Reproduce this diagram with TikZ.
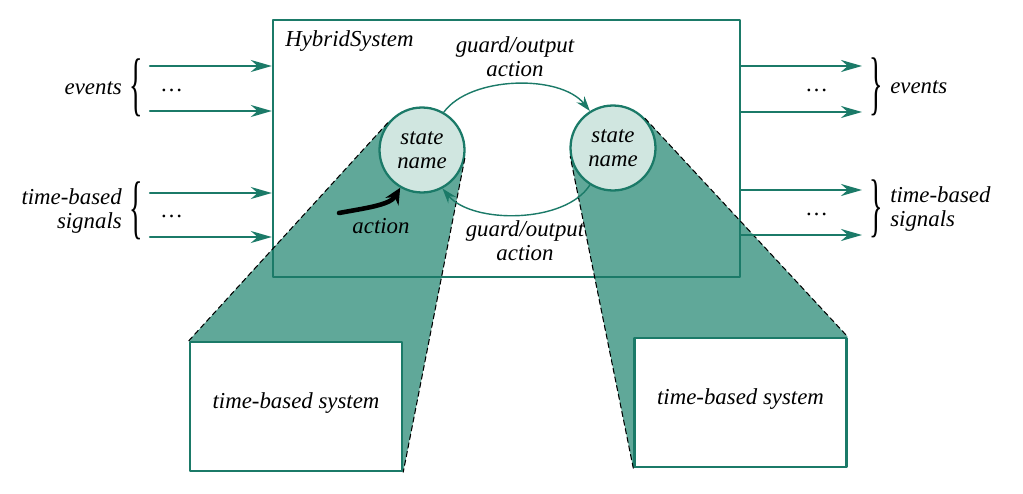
\documentclass[tikz,border=0pt]{standalone}
\usepackage{fontspec}
\setmainfont{Liberation Serif}
\usetikzlibrary{arrows.meta,positioning,calc,backgrounds}
\definecolor{tealline}{RGB}{27,122,104}
\definecolor{tealfill}{RGB}{96,168,153}
\definecolor{statefill}{RGB}{208,230,224}
\newcommand{\bigbrace}[1]{{\fontsize{40}{40}\selectfont\upshape#1}}

\begin{document}
\begin{tikzpicture}[x=0.02cm,y=-0.02cm,line cap=round,line join=round,
    font=\fontsize{13}{13.5}\selectfont\itshape,
    sysbox/.style={draw=tealline,line width=1.4pt,minimum width=9.34cm,minimum height=5.14cm,inner sep=0},
    subbox/.style={draw=tealline,line width=1.4pt,fill=white,minimum width=4.24cm,minimum height=2.58cm},
    state/.style={circle,draw=tealline,line width=1.3pt,fill=statefill,minimum size=1.7cm,inner sep=0,align=center},
    sig/.style={tealline,line width=1.3pt,-{Stealth[length=0.42cm,width=0.24cm]}},
    trans/.style={tealline,line width=0.8pt,-{Stealth[length=0.3cm,width=0.2cm]}},
    zoomedge/.style={line width=0.6pt,dash pattern=on 3pt off 2pt},
    lbl/.style={inner sep=0},
    bracenode/.style={inner sep=0,xscale=0.4}]
  \useasboundingbox (0,0) rectangle (1023,493);

  \node[sysbox] (hs) at (506.5,148.5) {};
  \node[lbl,anchor=base west] (hsname) at (285,47) {HybridSystem};

  \node[state] (s1) at (422,150) {state\\name};
  \node[state] (s2) at (613,148) {state\\name};
  \node[subbox] (b1) at (296,406.5) {\raisebox{7pt}{time-based system}};
  \node[subbox] (b2) at (740.5,402.5) {\raisebox{7pt}{time-based system}};

  % zoomed-out parts
  \coordinate (t1) at (tangent cs:node=s1,point={(b1.north west)},solution=2);
  \coordinate (t2) at (tangent cs:node=s1,point={(b1.south east)},solution=1);
  \coordinate (t3) at (tangent cs:node=s2,point={(b2.south west)},solution=2);
  \coordinate (t4) at (tangent cs:node=s2,point={(b2.north east)},solution=1);
  \begin{scope}[on background layer]
    \fill[tealfill] (b1.north west) -- (t1) -- (t2) -- (b1.south east) -- cycle;
    \fill[tealfill] (b2.south west) -- (t3) -- (t4) -- (b2.north east) -- cycle;
  \end{scope}
  \draw[zoomedge] (b1.north west) -- (t1);
  \draw[zoomedge] (t2) -- (b1.south east);
  \draw[zoomedge] (b2.south west) -- (t3);
  \draw[zoomedge] (t4) -- (b2.north east);

  % inputs and outputs
  \foreach \y [count=\i] in {66,111,193,237} {
    \coordinate (in\i) at (150,\y);
    \draw[sig] (in\i) -- (in\i -| hs.west);
  }
  \foreach \y [count=\i] in {66,112,190,235} {
    \coordinate (out\i) at (862,\y);
    \draw[sig] (out\i -| hs.east) -- (out\i);
  }
  \node (dl1) at (172,90) {\ldots};
  \node (dl2) at (172,216) {\ldots};
  \node (dr1) at (817,90) {\ldots};
  \node (dr2) at (817,214) {\ldots};

  \node[bracenode] (bl1) at (136,88) {\bigbrace\{};
  \node[bracenode] (bl2) at (136,211) {\bigbrace\{};
  \node[bracenode] (br1) at (876,87) {\bigbrace\}};
  \node[bracenode] (br2) at (876,209) {\bigbrace\}};
  \node[lbl,left=4pt of bl1] (evin) {events};
  \node[lbl,left=4pt of bl2,align=right] (sigin) {time-based\\signals};
  \node[lbl,right=4pt of br1] (evout) {events};
  \node[lbl,right=4pt of br2,align=left] (sigout) {time-based\\signals};

  % transitions
  \node[align=center] (gtop) at (515,57) {guard/output\\action};
  \node[align=center] (gbot) at (525,241) {guard/output\\action};
  \draw[trans] (s1.60) .. controls (470,76) and (560,74) .. (s2.122);
  \draw[trans] (s2.238) .. controls (565,224) and (472,224) .. (s1.-62);

  \coordinate (actfrom) at (339,213);
  \draw[line width=2.6pt,-{Stealth[length=0.32cm,width=0.3cm]}] (actfrom) .. controls (366,208) and (390,205) .. (s1.240);
  \node (actlbl) at (381,226) {action};
\end{tikzpicture}
\end{document}
